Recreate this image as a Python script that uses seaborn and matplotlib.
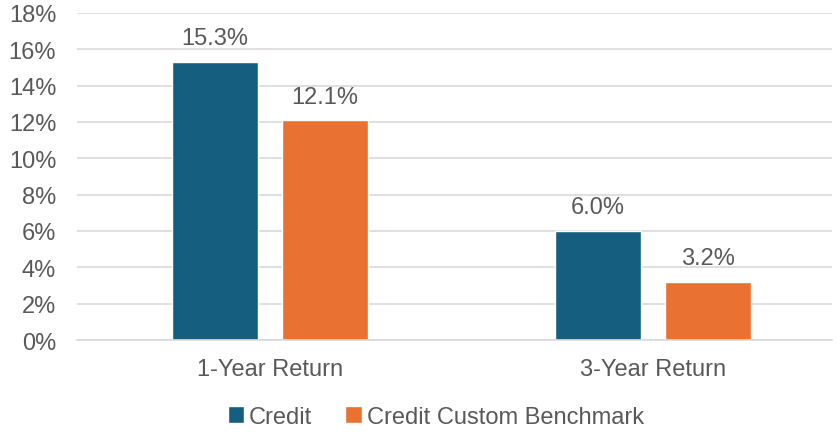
import matplotlib
matplotlib.use("Agg")
import matplotlib.pyplot as plt
import seaborn as sns
import pandas as pd
from matplotlib.ticker import PercentFormatter

categories = ["1-Year Return", "3-Year Return"]
series = ["Credit", "Credit Custom Benchmark"]
credit = [15.3, 6.0]
benchmark = [12.1, 3.2]
colors = ["#165E80", "#E97132"]

df = pd.DataFrame({
    "period": categories * 2,
    "series": [series[0]] * 2 + [series[1]] * 2,
    "value": credit + benchmark,
})

sns.set_theme(style="white")
plt.rcParams["font.family"] = ["Liberation Sans", "DejaVu Sans"]
text_color = "#595959"
fs = 17

fig = plt.figure(figsize=(8.4, 4.35), dpi=100)
ax = fig.add_axes([0.0917, 0.216, 0.899, 0.752])

sns.barplot(
    data=df, x="period", y="value", hue="series",
    palette=colors, width=0.575, gap=0.218, ax=ax,
    saturation=1, legend=True,
)

for c in ax.containers:
    ax.bar_label(c, labels=[f"{v:.1f}%" for v in c.datavalues],
                 padding=9, fontsize=fs, color=text_color)

ax.set_ylim(0, 18)
ax.set_xlim(-0.504, 1.467)
ax.set_yticks(range(0, 19, 2))
ax.yaxis.set_major_formatter(PercentFormatter(decimals=0))
ax.grid(axis="y", color="#d9d9d9", linewidth=1.2)
ax.set_axisbelow(True)
for s in ["top", "right", "left"]:
    ax.spines[s].set_visible(False)
ax.spines["bottom"].set_color("#d9d9d9")
ax.spines["bottom"].set_linewidth(1.2)
ax.tick_params(axis="y", length=0, pad=15, labelsize=fs, labelcolor=text_color)
ax.tick_params(axis="x", length=0, pad=13, labelsize=fs, labelcolor=text_color)
ax.set_xlabel("")
ax.set_ylabel("")

handles, labels = ax.get_legend_handles_labels()
ax.legend(handles, labels, loc="center", bbox_to_anchor=(0.475, -0.235),
          ncol=2, frameon=False, fontsize=fs, labelcolor=text_color,
          handlelength=0.7, handleheight=0.7, handletextpad=0.2,
          columnspacing=1.4, borderaxespad=0)

fig.savefig("out.png", dpi=100)
